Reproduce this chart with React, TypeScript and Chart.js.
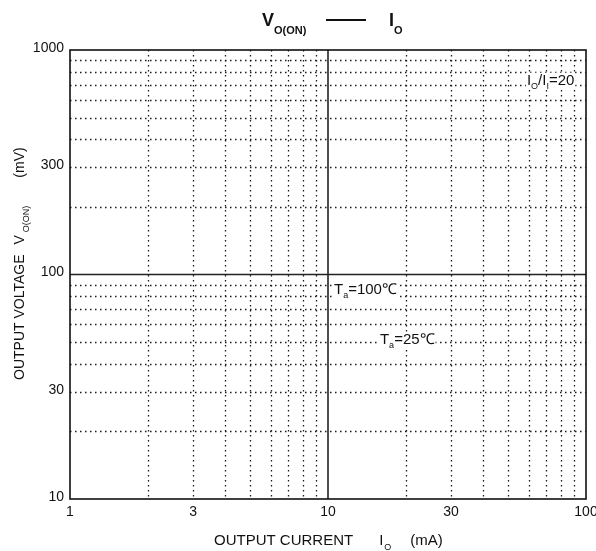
import React, { useEffect, useRef } from "react";
import { Chart, registerables } from "chart.js";

Chart.register(...registerables);

// ---- data ----
const xRange = [1, 100];
const yRange = [10, 1000];
const xTickLabels = [1, 3, 10, 30, 100];
const yTickLabels = [10, 30, 100, 300, 1000];
const gridMultipliers = [2, 3, 4, 5, 6, 7, 8, 9];
const majorX = [10];
const majorY = [100];
// annotations: label, subscript, rest, x(mA), y(mV)
const annoLabels = ["T", "T", "I"];
const annoSubs = ["a", "a", "O"];
const annoRest = ["=100℃", "=25℃", "/I"];
const annoX = [10.55, 15.9, 59];
const annoY = [87, 52, 745];

const FONT = "'Liberation Sans', Arial, Helvetica, sans-serif";

function gridValues(min: number, max: number): number[] {
  const out: number[] = [];
  for (let d = min; d < max; d *= 10) {
    for (const m of gridMultipliers) out.push(d * m);
  }
  return out;
}

type Run = { t: string; f: string; dy?: number; gap?: number };

function drawRuns(ctx: CanvasRenderingContext2D, runs: Run[], x: number, y: number) {
  let cx = x;
  for (const r of runs) {
    cx += r.gap || 0;
    ctx.font = r.f;
    ctx.fillText(r.t, cx, y + (r.dy || 0));
    cx += ctx.measureText(r.t).width;
  }
  return cx;
}

const gridPlugin = {
  id: "gridPlugin",
  beforeDatasetsDraw(chart: any) {
    const { ctx, chartArea } = chart;
    const xs = chart.scales.x;
    const ys = chart.scales.y;
    const { left, right, top, bottom } = chartArea;
    ctx.save();
    // dotted minor grid
    ctx.strokeStyle = "#1a1a1a";
    ctx.lineWidth = 1.3;
    ctx.setLineDash([1.5, 3.5]);
    for (const v of gridValues(xRange[0], xRange[1])) {
      if (majorX.includes(v) || v >= xRange[1]) continue;
      const px = Math.round(xs.getPixelForValue(v)) + 0.5;
      ctx.beginPath();
      ctx.moveTo(px, top);
      ctx.lineTo(px, bottom);
      ctx.stroke();
    }
    for (const v of gridValues(yRange[0], yRange[1])) {
      if (majorY.includes(v) || v >= yRange[1]) continue;
      const py = Math.round(ys.getPixelForValue(v)) + 0.5;
      ctx.beginPath();
      ctx.moveTo(left, py);
      ctx.lineTo(right, py);
      ctx.stroke();
    }
    // solid major lines
    ctx.setLineDash([]);
    ctx.strokeStyle = "#222";
    ctx.lineWidth = 1.6;
    for (const v of majorX) {
      const px = xs.getPixelForValue(v);
      ctx.beginPath();
      ctx.moveTo(px, top);
      ctx.lineTo(px, bottom);
      ctx.stroke();
    }
    for (const v of majorY) {
      const py = ys.getPixelForValue(v);
      ctx.beginPath();
      ctx.moveTo(left, py);
      ctx.lineTo(right, py);
      ctx.stroke();
    }
    // frame
    ctx.strokeStyle = "#111";
    ctx.lineWidth = 1.6;
    ctx.strokeRect(left, top, right - left, bottom - top);
    ctx.restore();
  },
  afterDraw(chart: any) {
    const { ctx, chartArea } = chart;
    const xs = chart.scales.x;
    const ys = chart.scales.y;
    ctx.save();
    ctx.fillStyle = "#111";
    ctx.textBaseline = "alphabetic";
    ctx.textAlign = "left";

    // annotations
    for (let i = 0; i < annoLabels.length; i++) {
      const px = xs.getPixelForValue(annoX[i]);
      const py = ys.getPixelForValue(annoY[i]);
      const base = py + 6;
      const runs: Run[] =
        i === 2
          ? [
              { t: annoLabels[i], f: `15px ${FONT}` },
              { t: annoSubs[i], f: `9px ${FONT}`, dy: 4 },
              { t: annoRest[i], f: `15px ${FONT}` },
              { t: "I", f: `9px ${FONT}`, dy: 4 },
              { t: "=20", f: `15px ${FONT}` },
            ]
          : [
              { t: annoLabels[i], f: `15px ${FONT}` },
              { t: annoSubs[i], f: `9px ${FONT}`, dy: 4 },
              { t: annoRest[i], f: `15px ${FONT}` },
            ];
      let w = 0;
      for (const r of runs) {
        ctx.font = r.f;
        w += ctx.measureText(r.t).width;
      }
      ctx.fillStyle = "#fff";
      ctx.fillRect(px - 1, base - 12, w + 2, 17);
      ctx.fillStyle = "#111";
      drawRuns(ctx, runs, px, base);
    }

    // title
    const cx = (chartArea.left + chartArea.right) / 2;
    drawRuns(ctx, [{ t: "V", f: `bold 18px ${FONT}` }, { t: "O(ON)", f: `bold 11px ${FONT}`, dy: 8 }], cx - 66, 26);
    ctx.strokeStyle = "#111";
    ctx.lineWidth = 2;
    ctx.beginPath();
    ctx.moveTo(cx - 2, 20);
    ctx.lineTo(cx + 38, 20);
    ctx.stroke();
    drawRuns(ctx, [{ t: "I", f: `bold 18px ${FONT}` }, { t: "O", f: `bold 11px ${FONT}`, dy: 8 }], cx + 61, 26);

    // x axis title
    drawRuns(
      ctx,
      [
        { t: "OUTPUT CURRENT", f: `15px ${FONT}` },
        { t: "I", f: `15px ${FONT}`, gap: 26 },
        { t: "O", f: `9px ${FONT}`, dy: 5, gap: 1 },
        { t: "(mA)", f: `15px ${FONT}`, gap: 19 },
      ],
      cx - 114,
      545
    );

    // y axis title (rotated)
    ctx.save();
    ctx.translate(24, 380);
    ctx.rotate(-Math.PI / 2);
    drawRuns(
      ctx,
      [
        { t: "OUTPUT VOLTAGE", f: `14px ${FONT}` },
        { t: "V", f: `14px ${FONT}`, gap: 10 },
        { t: "O(ON)", f: `9px ${FONT}`, dy: 5, gap: 3 },
        { t: "(mV)", f: `14px ${FONT}`, gap: 28 },
      ],
      0,
      0
    );
    ctx.restore();
    ctx.restore();
  },
};

export default function App() {
  const ref = useRef<HTMLCanvasElement | null>(null);
  useEffect(() => {
    if (!ref.current) return;
    const chart = new Chart(ref.current, {
      type: "scatter",
      data: { datasets: [{ data: [], showLine: false }] },
      options: {
        animation: false,
        responsive: false,
        devicePixelRatio: 1,
        layout: { padding: { left: 0, top: 50, right: 10, bottom: 0 } },
        plugins: { legend: { display: false }, tooltip: { enabled: false }, title: { display: false } },
        scales: {
          x: {
            type: "logarithmic",
            min: xRange[0],
            max: xRange[1],
            afterBuildTicks: (s: any) => {
              s.ticks = xTickLabels.map((v) => ({ value: v }));
            },
            afterFit: (s: any) => {
              s.height = 52;
              s.paddingLeft = 0;
              s.paddingRight = 0;
            },
            grid: { display: false, drawTicks: false },
            border: { display: false },
            ticks: {
              autoSkip: false,
              maxRotation: 0,
              padding: 5,
              color: "#111",
              font: { family: FONT, size: 14 },
              callback: (v: any) => String(v),
            },
          },
          y: {
            type: "logarithmic",
            min: yRange[0],
            max: yRange[1],
            afterBuildTicks: (s: any) => {
              s.ticks = yTickLabels.map((v) => ({ value: v }));
            },
            afterFit: (s: any) => {
              s.width = 70;
              s.paddingTop = 0;
              s.paddingBottom = 0;
            },
            grid: { display: false, drawTicks: false },
            border: { display: false },
            ticks: {
              autoSkip: false,
              padding: 6,
              labelOffset: -2,
              color: "#111",
              font: { family: FONT, size: 14 },
              callback: (v: any) => String(v),
            },
          },
        },
      },
      plugins: [gridPlugin],
    } as any);
    return () => chart.destroy();
  }, []);
  return (
    <div style={{ position: "absolute", left: 0, top: 0, width: 596, height: 551, background: "#fff" }}>
      <canvas ref={ref} width={596} height={551} style={{ display: "block", width: 596, height: 551 }} />
    </div>
  );
}
